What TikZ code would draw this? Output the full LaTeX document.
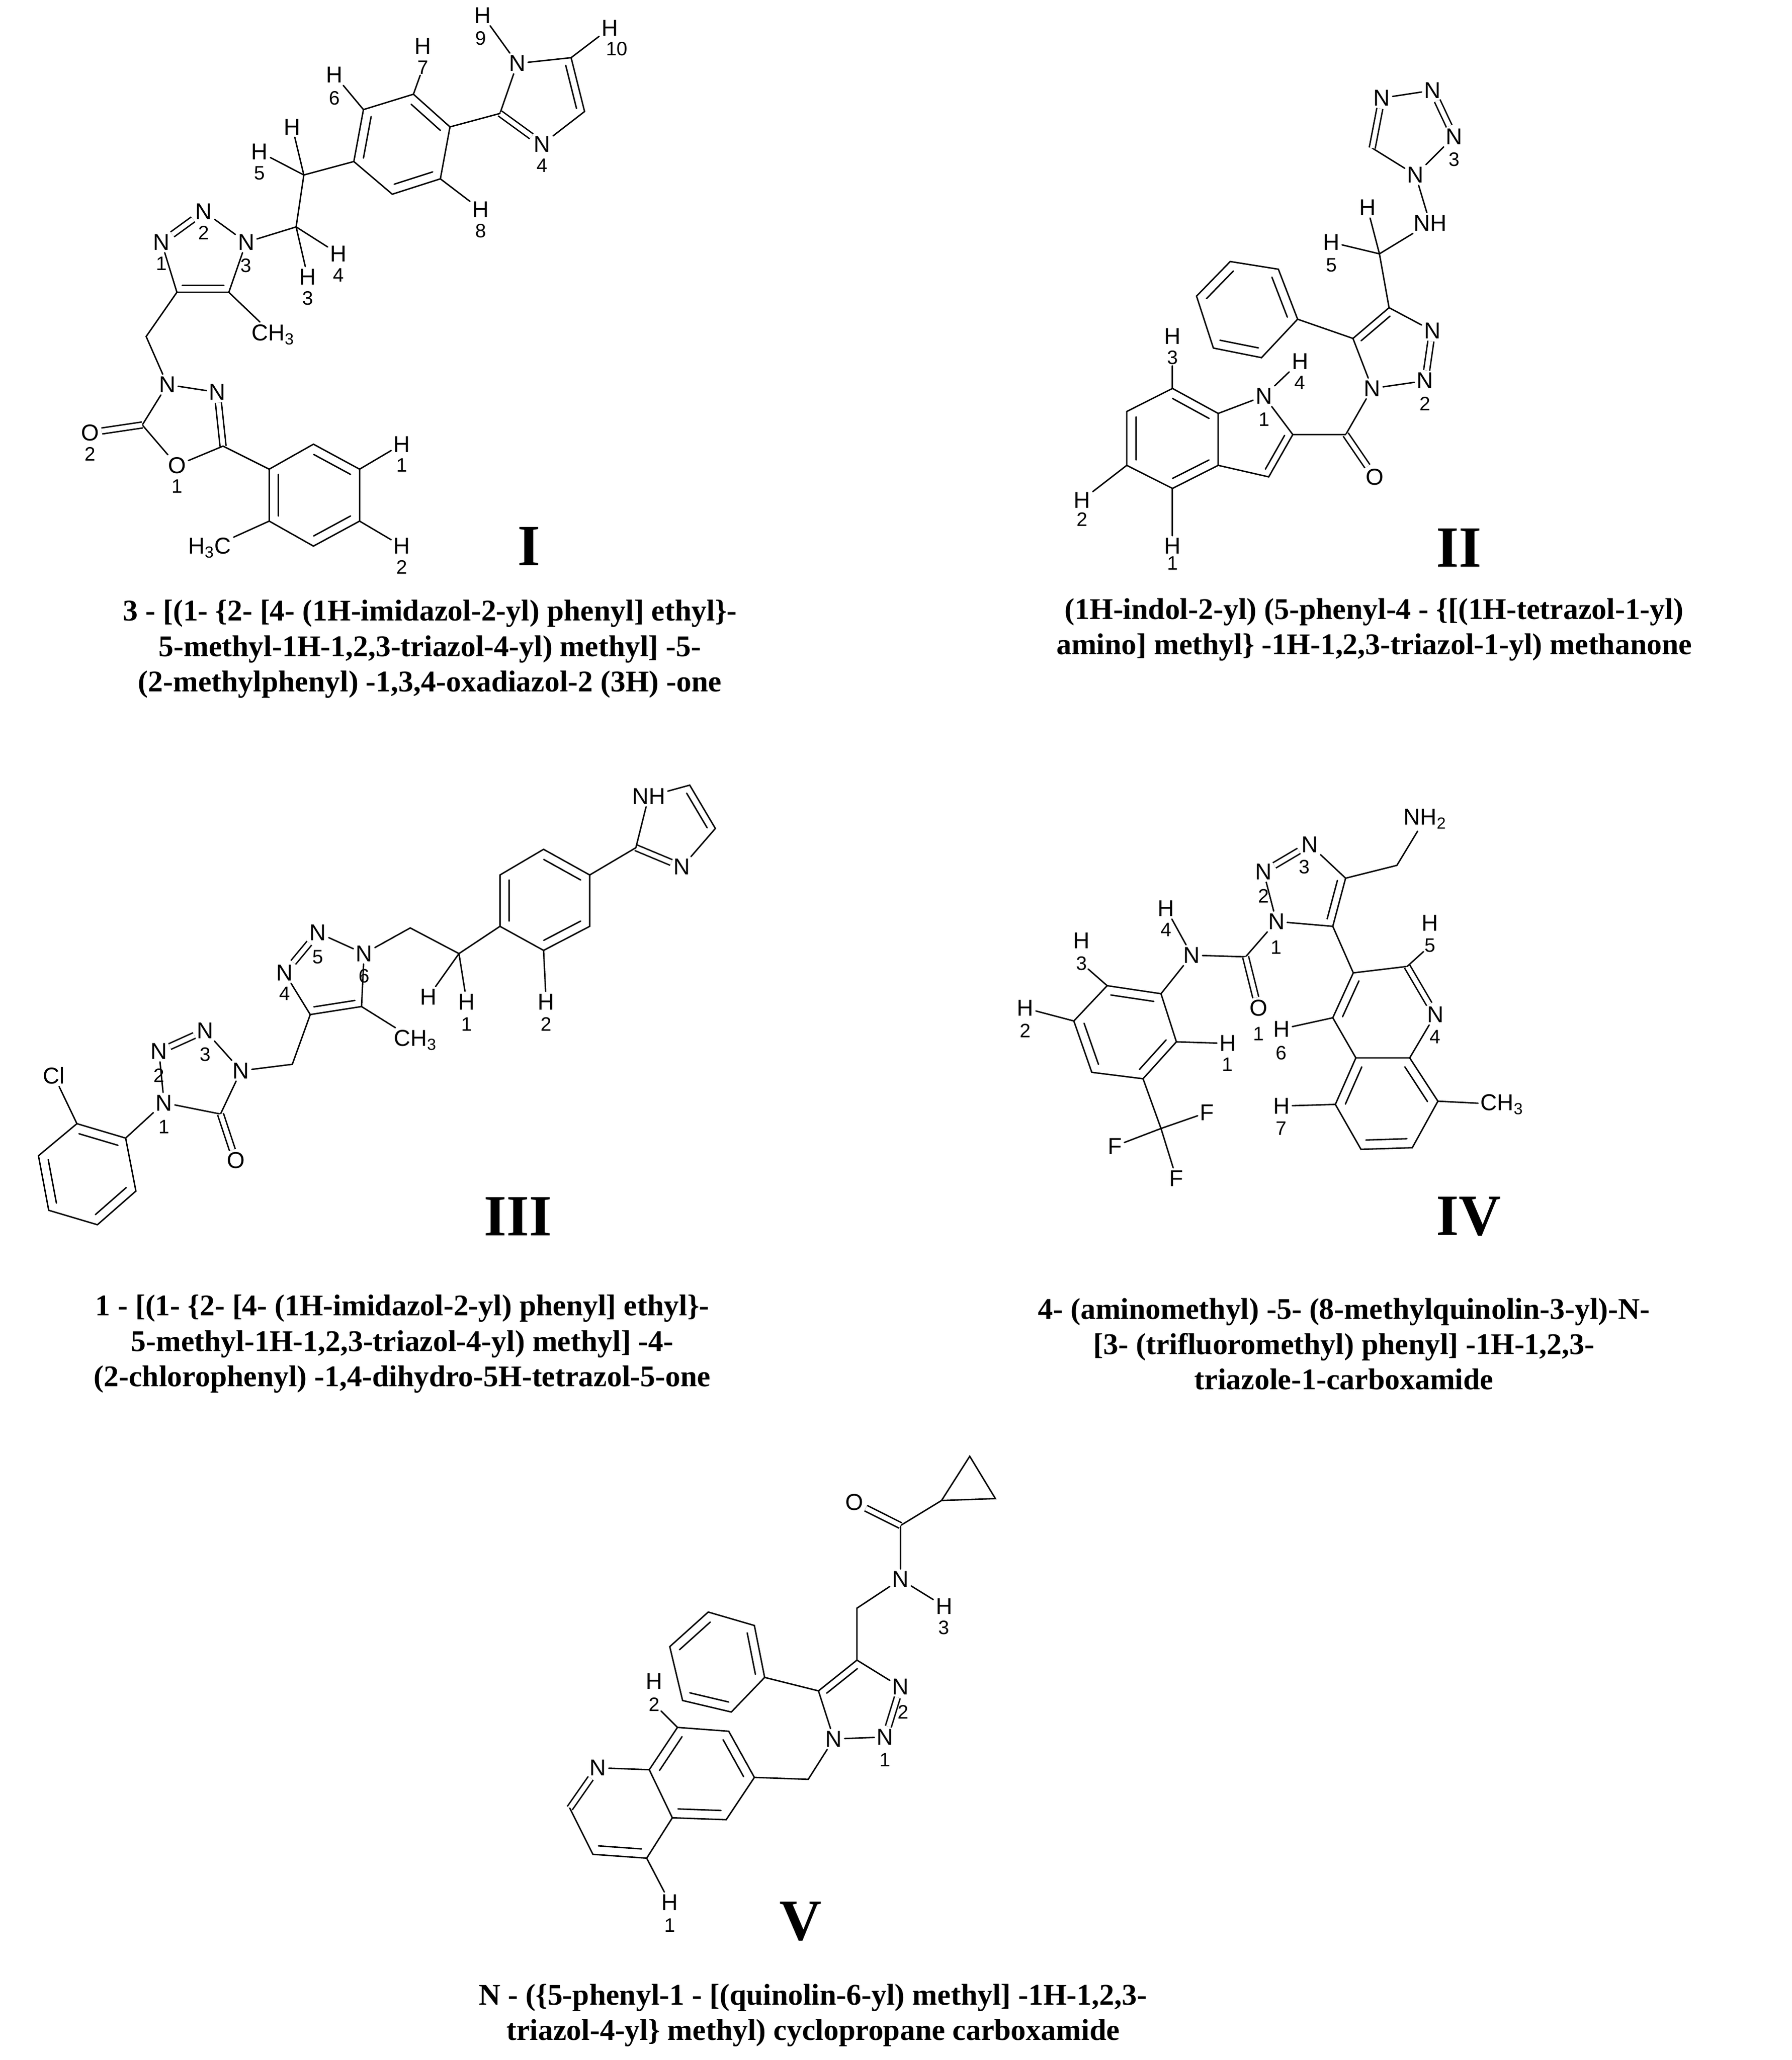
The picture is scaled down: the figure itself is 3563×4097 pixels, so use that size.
\documentclass[tikz,border=0pt]{standalone}
\usepackage{fontspec}
\setmainfont{Liberation Serif}
\setsansfont{Liberation Sans}
\usetikzlibrary{calc}

\newcommand{\atomfont}{\sffamily\fontsize{13}{13}\selectfont}
\newcommand{\numfont}{\sffamily\fontsize{11}{11}\selectfont}
% inner line of a ring double bond: ends, ring centre
\newcommand{\ringdbl}[3]{\draw[bond] ($(#1)!.2!(#3)$) -- ($(#2)!.2!(#3)$);}

\begin{document}
\begin{tikzpicture}[
        x=0.01cm, y=-0.01cm,
        bond/.style={line width=0.8pt, line cap=round},
        dbl/.style={line width=0.8pt, double, double distance=2.6pt},
        atom/.style={inner sep=1.2pt, font=\atomfont},
        num/.style={inner sep=0.5pt, font=\numfont},
        title/.style={font=\bfseries\fontsize{17}{20}\selectfont, align=center},
        roman/.style={font=\bfseries\fontsize{33}{33}\selectfont},
    ]
    \useasboundingbox (0,0) rectangle (3563,4097);

    % compound I
    \begin{scope}[x=0.00765cm, y=-0.00765cm]
        \node[atom] (a9) at (1345,165) {N};
        \node[atom] (ah9) at (1255,40) {H};
        \node[num] at (1250,100) {9};
        \coordinate (a10) at (1485,150);
        \node[atom] (ah10) at (1586,73) {H};
        \node[num] at (1604,127) {10};
        \coordinate (a11) at (1520,290);
        \node[atom] (a4) at (1410,375) {N};
        \node[num] at (1410,430) {4};
        \coordinate (a12) at (1300,295);
        \coordinate (ai) at (1415,250);
        \draw[bond] (ah9) -- (a9) -- (a10) -- (a11) -- (a4);
        \draw[bond] (a12) -- (a9);
        \draw[bond] (ah10) -- (a10);
        \draw[dbl] (a4) -- (a12);
        \ringdbl{a10}{a11}{ai}
        \coordinate (ab1) at (1170,330);
        \coordinate (ab2) at (1075,245);
        \coordinate (ab3) at (945,285);
        \coordinate (ab4) at (920,420);
        \coordinate (ab5) at (1020,505);
        \coordinate (ab6) at (1145,465);
        \coordinate (abc) at (1045,375);
        \draw[bond] (ab1) -- (ab2) -- (ab3) -- (ab4) -- (ab5) -- (ab6) -- cycle;
        \draw[bond] (a12) -- (ab1);
        \ringdbl{ab1}{ab2}{abc}
        \ringdbl{ab3}{ab4}{abc}
        \ringdbl{ab5}{ab6}{abc}
        \node[atom] (ah7) at (1100,120) {H};
        \node[num] (an7) at (1100,175) {7};
        \node[atom] (ah6) at (870,195) {H};
        \node[num] at (870,255) {6};
        \node[atom] (ah8) at (1250,545) {H};
        \node[num] at (1250,600) {8};
        \draw[bond] (ab2) -- (an7);
        \draw[bond] (ab3) -- (ah6);
        \draw[bond] (ab6) -- (ah8);
        \coordinate (ac1) at (790,455);
        \coordinate (ac2) at (770,590);
        \node[atom] (ah5a) at (760,330) {H};
        \node[atom] (ah5) at (675,395) {H};
        \node[num] at (675,450) {5};
        \node[atom] (ah4) at (880,660) {H};
        \node[num] at (880,715) {4};
        \node[atom] (ah3) at (800,720) {H};
        \node[num] at (800,775) {3};
        \draw[bond] (ab4) -- (ac1) -- (ac2);
        \draw[bond] (ac1) -- (ah5a);
        \draw[bond] (ac1) -- (ah5);
        \draw[bond] (ac2) -- (ah4);
        \draw[bond] (ac2) -- (ah3);
        \node[atom] (at3) at (640,630) {N};
        \node[num] at (640,690) {3};
        \node[atom] (at2) at (530,550) {N};
        \node[num] at (530,605) {2};
        \node[atom] (at1) at (420,630) {N};
        \node[num] at (420,685) {1};
        \coordinate (ac4) at (460,760);
        \coordinate (ac5) at (595,760);
        \coordinate (atc) at (530,670);
        \draw[bond] (ac2) -- (at3) -- (at2);
        \draw[dbl] (at2) -- (at1);
        \draw[bond] (at1) -- (ac4) -- (ac5) -- (at3);
        \ringdbl{ac4}{ac5}{atc}
        \node[atom] (ach3) at (710,870) {CH\textsubscript{3}};
        \draw[bond] (ac5) -- (ach3);
        \coordinate (acm) at (380,875);
        \node[atom] (ao3) at (435,1000) {N};
        \node[atom] (ao4) at (565,1020) {N};
        \coordinate (ac6) at (580,1160);
        \node[atom] (ao1) at (460,1210) {O};
        \node[num] at (460,1265) {1};
        \coordinate (ac7) at (370,1105);
        \node[atom] (aox) at (235,1125) {O};
        \node[num] at (235,1180) {2};
        \draw[bond] (ac4) -- (acm) -- (ao3) -- (ao4);
        \draw[dbl] (ao4) -- (ac6);
        \draw[bond] (ac6) -- (ao1) -- (ac7) -- (ao3);
        \draw[dbl] (ac7) -- (aox);
        \coordinate (ar1) at (700,1220);
        \coordinate (ar2) at (815,1155);
        \coordinate (ar3) at (935,1220);
        \coordinate (ar4) at (935,1355);
        \coordinate (ar5) at (815,1420);
        \coordinate (ar6) at (700,1355);
        \coordinate (arc) at (818,1288);
        \draw[bond] (ar1) -- (ar2) -- (ar3) -- (ar4) -- (ar5) -- (ar6) -- cycle;
        \draw[bond] (ac6) -- (ar1);
        \ringdbl{ar2}{ar3}{arc}
        \ringdbl{ar1}{ar6}{arc}
        \ringdbl{ar4}{ar5}{arc}
        \node[atom] (ah1) at (1045,1155) {H};
        \node[num] at (1045,1210) {1};
        \node[atom] (ah2) at (1045,1420) {H};
        \node[num] at (1045,1475) {2};
        \node[atom] (ahc) at (545,1425) {H\textsubscript{3}C};
        \draw[bond] (ar3) -- (ah1);
        \draw[bond] (ar4) -- (ah2);
        \draw[bond] (ar6) -- (ahc);
        \node[roman] (ra) at (1375,1420) {I};
    \end{scope}

    % compound II
    \begin{scope}[x=0.00957cm, y=-0.00765cm, xshift=19cm]
        \node[atom] (bn1) at (885,255) {N};
        \node[atom] (bn2) at (990,235) {N};
        \node[atom] (bn3) at (1035,355) {N};
        \node[num] at (1035,415) {3};
        \node[atom] (bn4) at (955,455) {N};
        \coordinate (bc1) at (865,385);
        \draw[bond] (bn1) -- (bn2);
        \draw[dbl] (bn2) -- (bn3);
        \draw[bond] (bn3) -- (bn4) -- (bc1);
        \draw[dbl] (bc1) -- (bn1);
        \node[atom] (bnh) at (985,580) {NH};
        \coordinate (bc2) at (880,660);
        \node[atom] (bh) at (855,540) {H};
        \node[atom] (bh5) at (780,630) {H};
        \node[num] at (780,690) {5};
        \draw[bond] (bn4) -- (bnh) -- (bc2);
        \draw[bond] (bc2) -- (bh);
        \draw[bond] (bc2) -- (bh5);
        \coordinate (bc3) at (900,800);
        \node[atom] (bn5) at (990,860) {N};
        \node[atom] (bn6) at (975,990) {N};
        \node[num] at (975,1050) {2};
        \node[atom] (bn7) at (865,1010) {N};
        \coordinate (bc4) at (825,880);
        \coordinate (btc) at (910,910);
        \draw[bond] (bc2) -- (bc3) -- (bn5);
        \draw[dbl] (bn5) -- (bn6);
        \draw[bond] (bn6) -- (bn7) -- (bc4) -- (bc3);
        \ringdbl{bc4}{bc3}{btc}
        \coordinate (bp1) at (710,830);
        \coordinate (bp2) at (670,700);
        \coordinate (bp3) at (570,680);
        \coordinate (bp4) at (500,770);
        \coordinate (bp5) at (535,905);
        \coordinate (bp6) at (635,930);
        \coordinate (bpc) at (603,803);
        \draw[bond] (bp1) -- (bp2) -- (bp3) -- (bp4) -- (bp5) -- (bp6) -- cycle;
        \draw[bond] (bc4) -- (bp1);
        \ringdbl{bp1}{bp2}{bpc}
        \ringdbl{bp3}{bp4}{bpc}
        \ringdbl{bp5}{bp6}{bpc}
        \coordinate (bc5) at (810,1130);
        \node[atom] (bo) at (870,1240) {O};
        \draw[bond] (bn7) -- (bc5);
        \draw[dbl] (bc5) -- (bo);
        \node[atom] (bni) at (640,1030) {N};
        \node[num] at (640,1090) {1};
        \node[atom] (bh4) at (715,940) {H};
        \node[num] at (715,995) {4};
        \coordinate (bi2) at (700,1130);
        \coordinate (bi3) at (650,1240);
        \coordinate (bi3a) at (545,1210);
        \coordinate (bi7a) at (545,1075);
        \coordinate (bic) at (615,1140);
        \draw[bond] (bni) -- (bh4);
        \draw[bond] (bc5) -- (bi2) -- (bni) -- (bi7a) -- (bi3a) -- (bi3) -- (bi2);
        \ringdbl{bi3}{bi2}{bic}
        \coordinate (bi7) at (450,1010);
        \coordinate (bi6) at (355,1070);
        \coordinate (bi5) at (355,1210);
        \coordinate (bi4) at (450,1270);
        \coordinate (bbc) at (450,1140);
        \draw[bond] (bi7a) -- (bi7) -- (bi6) -- (bi5) -- (bi4) -- (bi3a);
        \ringdbl{bi7a}{bi7}{bbc}
        \ringdbl{bi6}{bi5}{bbc}
        \ringdbl{bi4}{bi3a}{bbc}
        \node[atom] (bh3) at (450,875) {H};
        \node[num] (bn3l) at (450,930) {3};
        \node[atom] (bh2) at (262,1300) {H};
        \node[num] at (262,1350) {2};
        \node[atom] (bh1) at (450,1420) {H};
        \node[num] at (450,1465) {1};
        \draw[bond] (bi7) -- (bn3l);
        \draw[bond] (bi5) -- (bh2);
        \draw[bond] (bi4) -- (bh1);
        \node[roman] (rb) at (1045,1425) {II};
    \end{scope}

    % compound III
    \begin{scope}[x=0.0102cm, y=-0.00638cm, yshift=-15cm]
        \node[atom] (cnh) at (1265,130) {NH};
        \coordinate (cc1) at (1345,95);
        \coordinate (cc2) at (1395,230);
        \node[atom] (cn) at (1330,350) {N};
        \coordinate (cc3) at (1240,290);
        \coordinate (cic) at (1315,220);
        \draw[bond] (cnh) -- (cc1) -- (cc2) -- (cn);
        \draw[dbl] (cn) -- (cc3);
        \draw[bond] (cc3) -- (cnh);
        \ringdbl{cc1}{cc2}{cic}
        \coordinate (cb1) at (1150,375);
        \coordinate (cb2) at (1060,295);
        \coordinate (cb3) at (975,375);
        \coordinate (cb4) at (975,535);
        \coordinate (cb5) at (1060,610);
        \coordinate (cb6) at (1150,535);
        \coordinate (cbc) at (1062,453);
        \draw[bond] (cb1) -- (cb2) -- (cb3) -- (cb4) -- (cb5) -- (cb6) -- cycle;
        \draw[bond] (cc3) -- (cb1);
        \ringdbl{cb1}{cb2}{cbc}
        \ringdbl{cb3}{cb4}{cbc}
        \ringdbl{cb5}{cb6}{cbc}
        \node[atom] (ch2) at (1065,770) {H};
        \node[num] at (1065,840) {2};
        \draw[bond] (cb5) -- (ch2);
        \coordinate (cm1) at (895,620);
        \coordinate (cm2) at (800,540);
        \node[atom] (ch) at (835,755) {H};
        \node[atom] (ch1) at (910,770) {H};
        \node[num] at (910,840) {1};
        \draw[bond] (cb4) -- (cm1) -- (cm2);
        \draw[bond] (cm1) -- (ch);
        \draw[bond] (cm1) -- (ch1);
        \node[atom] (cn6) at (710,620) {N};
        \node[num] at (710,690) {6};
        \node[atom] (cn5) at (620,555) {N};
        \node[num] at (620,630) {5};
        \node[atom] (cn4) at (555,680) {N};
        \node[num] at (555,745) {4};
        \coordinate (ct1) at (605,810);
        \coordinate (ct2) at (705,785);
        \coordinate (ctc) at (640,690);
        \draw[bond] (cm2) -- (cn6) -- (cn5);
        \draw[dbl] (cn5) -- (cn4);
        \draw[bond] (cn4) -- (ct1) -- (ct2) -- (cn6);
        \ringdbl{ct1}{ct2}{ctc}
        \node[atom] (cch3) at (810,890) {CH\textsubscript{3}};
        \draw[bond] (ct2) -- (cch3);
        \coordinate (cm3) at (570,965);
        \node[atom] (cna) at (470,985) {N};
        \node[atom] (cnb) at (400,860) {N};
        \node[num] at (400,935) {3};
        \node[atom] (cnc) at (310,925) {N};
        \node[num] at (310,1000) {2};
        \node[atom] (cnd) at (320,1085) {N};
        \node[num] at (320,1160) {1};
        \coordinate (cc4) at (430,1120);
        \node[atom] (co) at (460,1265) {O};
        \draw[bond] (ct1) -- (cm3) -- (cna) -- (cnb);
        \draw[dbl] (cnb) -- (cnc);
        \draw[bond] (cnc) -- (cnd) -- (cc4) -- (cna);
        \draw[dbl] (cc4) -- (co);
        \coordinate (ca1) at (245,1195);
        \coordinate (ca2) at (150,1150);
        \coordinate (ca3) at (75,1250);
        \coordinate (ca4) at (95,1420);
        \coordinate (ca5) at (190,1465);
        \coordinate (ca6) at (265,1360);
        \coordinate (cac) at (170,1307);
        \draw[bond] (ca1) -- (ca2) -- (ca3) -- (ca4) -- (ca5) -- (ca6) -- cycle;
        \draw[bond] (cnd) -- (ca1);
        \ringdbl{ca1}{ca2}{cac}
        \ringdbl{ca3}{ca4}{cac}
        \ringdbl{ca5}{ca6}{cac}
        \node[atom] (ccl) at (105,1000) {Cl};
        \draw[bond] (ca2) -- (ccl);
        \node[roman] (rc) at (1010,1440) {III};
    \end{scope}

    % compound IV
    \begin{scope}[x=0.0102cm, y=-0.00638cm, xshift=19cm, yshift=-15cm]
        \node[atom] (dnh2) at (915,200) {NH\textsubscript{2}};
        \coordinate (dm) at (860,345);
        \coordinate (dc4) at (760,385);
        \node[atom] (dn3) at (690,280) {N};
        \node[num] at (680,350) {3};
        \node[atom] (dn2) at (600,365) {N};
        \node[num] at (600,440) {2};
        \node[atom] (dn1) at (625,520) {N};
        \node[num] at (625,600) {1};
        \coordinate (dc5) at (735,535);
        \coordinate (dtc) at (680,420);
        \draw[bond] (dnh2) -- (dm) -- (dc4) -- (dn3);
        \draw[dbl] (dn3) -- (dn2);
        \draw[bond] (dn2) -- (dn1) -- (dc5) -- (dc4);
        \ringdbl{dc5}{dc4}{dtc}
        \coordinate (dc6) at (565,630);
        \node[atom] (do) at (590,790) {O};
        \node[num] at (590,870) {1};
        \node[atom] (dn4) at (460,625) {N};
        \node[atom] (dh4) at (410,480) {H};
        \node[num] at (410,545) {4};
        \draw[bond] (dn1) -- (dc6) -- (dn4) -- (dh4);
        \draw[dbl] (dc6) -- (do);
        \coordinate (da1) at (400,745);
        \coordinate (da2) at (295,720);
        \coordinate (da3) at (230,830);
        \coordinate (da4) at (265,990);
        \coordinate (da5) at (365,1010);
        \coordinate (da6) at (430,895);
        \coordinate (dac) at (330,865);
        \draw[bond] (da1) -- (da2) -- (da3) -- (da4) -- (da5) -- (da6) -- cycle;
        \draw[bond] (dn4) -- (da1);
        \ringdbl{da1}{da2}{dac}
        \ringdbl{da3}{da4}{dac}
        \ringdbl{da5}{da6}{dac}
        \node[atom] (dh3) at (245,580) {H};
        \node[num] (dn3l) at (245,650) {3};
        \node[atom] (dh2) at (135,790) {H};
        \node[num] at (135,860) {2};
        \node[atom] (dh1) at (530,900) {H};
        \node[num] at (530,965) {1};
        \draw[bond] (da2) -- (dn3l);
        \draw[bond] (da3) -- (dh2);
        \draw[bond] (da6) -- (dh1);
        \coordinate (dcf) at (400,1165);
        \node[atom] (df1) at (490,1115) {F};
        \node[atom] (df2) at (310,1220) {F};
        \node[atom] (df3) at (430,1320) {F};
        \draw[bond] (da5) -- (dcf) -- (df1);
        \draw[bond] (dcf) -- (df2);
        \draw[bond] (dcf) -- (df3);
        \coordinate (dq3) at (775,680);
        \coordinate (dq2) at (880,660);
        \node[atom] (dqn) at (935,810) {N};
        \node[num] at (935,880) {4};
        \coordinate (dq8a) at (885,945);
        \coordinate (dq4a) at (780,945);
        \coordinate (dq4) at (735,820);
        \coordinate (dqc) at (830,805);
        \draw[bond] (dc5) -- (dq3) -- (dq2);
        \draw[dbl] (dq2) -- (dqn);
        \draw[bond] (dqn) -- (dq8a) -- (dq4a) -- (dq4) -- (dq3);
        \ringdbl{dq4}{dq3}{dqc}
        \coordinate (dq5) at (740,1090);
        \coordinate (dq6) at (790,1230);
        \coordinate (dq7) at (890,1225);
        \coordinate (dq8) at (940,1080);
        \coordinate (dbc) at (838,1085);
        \draw[bond] (dq4a) -- (dq5) -- (dq6) -- (dq7) -- (dq8) -- (dq8a);
        \ringdbl{dq4a}{dq5}{dbc}
        \ringdbl{dq6}{dq7}{dbc}
        \ringdbl{dq8}{dq8a}{dbc}
        \node[atom] (dh5) at (925,525) {H};
        \node[num] (dn5l) at (925,595) {5};
        \node[atom] (dh6) at (635,855) {H};
        \node[num] at (635,930) {6};
        \node[atom] (dh7) at (635,1095) {H};
        \node[num] at (635,1165) {7};
        \node[atom] (dch3) at (1065,1090) {CH\textsubscript{3}};
        \draw[bond] (dq2) -- (dn5l);
        \draw[bond] (dq4) -- (dh6);
        \draw[bond] (dq5) -- (dh7);
        \draw[bond] (dq8) -- (dch3);
        \node[roman] (rd) at (1000,1440) {IV};
    \end{scope}

    % compound V
    \begin{scope}[x=0.0102cm, y=-0.00765cm, xshift=10cm, yshift=-26.5cm]
        \coordinate (ek1) at (855,435);
        \coordinate (ek2) at (910,320);
        \coordinate (ek3) at (960,430);
        \draw[bond] (ek1) -- (ek2) -- (ek3) -- cycle;
        \coordinate (ec) at (775,500);
        \node[atom] (eo) at (685,440) {O};
        \node[atom] (en) at (775,640) {N};
        \node[atom] (eh3) at (860,710) {H};
        \node[num] at (860,765) {3};
        \coordinate (em) at (690,715);
        \draw[bond] (ek1) -- (ec) -- (en) -- (eh3);
        \draw[dbl] (ec) -- (eo);
        \coordinate (ec4) at (690,850);
        \node[atom] (en2) at (775,920) {N};
        \node[num] at (780,985) {2};
        \node[atom] (en1) at (745,1050) {N};
        \node[num] at (745,1110) {1};
        \node[atom] (en0) at (645,1055) {N};
        \coordinate (ec5) at (615,930);
        \coordinate (etc) at (695,960);
        \draw[bond] (en) -- (em) -- (ec4) -- (en2);
        \draw[dbl] (en2) -- (en1);
        \draw[bond] (en1) -- (en0) -- (ec5) -- (ec4);
        \ringdbl{ec5}{ec4}{etc}
        \coordinate (ep1) at (510,895);
        \coordinate (ep2) at (490,760);
        \coordinate (ep3) at (400,725);
        \coordinate (ep4) at (325,815);
        \coordinate (ep5) at (350,955);
        \coordinate (ep6) at (445,985);
        \coordinate (epc) at (420,855);
        \draw[bond] (ep1) -- (ep2) -- (ep3) -- (ep4) -- (ep5) -- (ep6) -- cycle;
        \draw[bond] (ec5) -- (ep1);
        \ringdbl{ep1}{ep2}{epc}
        \ringdbl{ep3}{ep4}{epc}
        \ringdbl{ep5}{ep6}{epc}
        \coordinate (em2) at (595,1160);
        \coordinate (eq6) at (490,1155);
        \coordinate (eq7) at (440,1035);
        \coordinate (eq8) at (340,1025);
        \coordinate (eq8a) at (285,1135);
        \coordinate (eq4a) at (330,1260);
        \coordinate (eq5) at (435,1265);
        \coordinate (eqc) at (385,1145);
        \draw[bond] (en0) -- (em2) -- (eq6);
        \draw[bond] (eq6) -- (eq7) -- (eq8) -- (eq8a) -- (eq4a) -- (eq5) -- cycle;
        \ringdbl{eq6}{eq7}{eqc}
        \ringdbl{eq8}{eq8a}{eqc}
        \ringdbl{eq4a}{eq5}{eqc}
        \node[atom] (eqn) at (185,1130) {N};
        \coordinate (eq2) at (130,1235);
        \coordinate (eq3) at (175,1355);
        \coordinate (eq4) at (280,1365);
        \coordinate (epy) at (230,1245);
        \draw[bond] (eq8a) -- (eqn);
        \draw[dbl] (eqn) -- (eq2);
        \draw[bond] (eq2) -- (eq3) -- (eq4) -- (eq4a);
        \ringdbl{eq3}{eq4}{epy}
        \node[atom] (eh2) at (295,905) {H};
        \node[num] (e2l) at (295,965) {2};
        \node[atom] (eh1) at (325,1480) {H};
        \node[num] at (325,1540) {1};
        \draw[bond] (eq8) -- (e2l);
        \draw[bond] (eq4) -- (eh1);
        \node[roman] (re) at (580,1530) {V};
    \end{scope}

    % names
    \node[title] (ta) at (855,1291) {3 - [(1- \{2- [4- (1H-imidazol-2-yl) phenyl] ethyl\}-\\5-methyl-1H-1,2,3-triazol-4-yl) methyl] -5-\\(2-methylphenyl) -1,3,4-oxadiazol-2 (3H) -one};
    \node[title] (tb) at (2733,1252) {(1H-indol-2-yl) (5-phenyl-4 - \{[(1H-tetrazol-1-yl)\\amino] methyl\} -1H-1,2,3-triazol-1-yl) methanone};
    \node[title] (tc) at (800,2673) {1 - [(1- \{2- [4- (1H-imidazol-2-yl) phenyl] ethyl\}-\\5-methyl-1H-1,2,3-triazol-4-yl) methyl] -4-\\(2-chlorophenyl) -1,4-dihydro-5H-tetrazol-5-one};
    \node[title] (td) at (2673,2673) {4- (aminomethyl) -5- (8-methylquinolin-3-yl)-N-\\{}[3- (trifluoromethyl) phenyl] -1H-1,2,3-\\triazole-1-carboxamide};
    \node[title] (te) at (1617,4008) {N - (\{5-phenyl-1 - [(quinolin-6-yl) methyl] -1H-1,2,3-\\triazol-4-yl\} methyl) cyclopropane carboxamide};
\end{tikzpicture}
\end{document}
